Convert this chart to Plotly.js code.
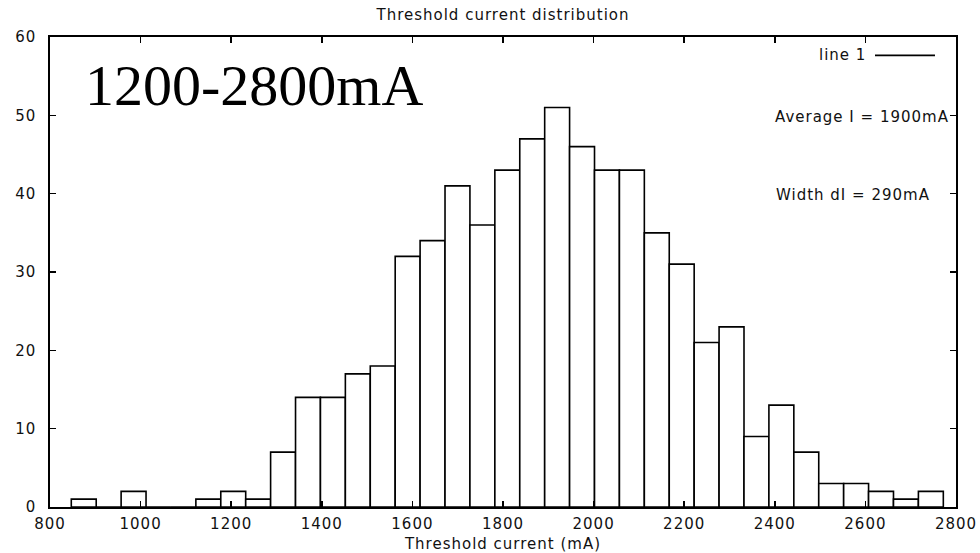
<!DOCTYPE html>
<html>
<head>
<meta charset="utf-8">
<script src="https://cdn.plot.ly/plotly-3.0.1.min.js"></script>
<style>
html,body{margin:0;padding:0;background:#fff;}
#chart{width:980px;height:553px;}
#chart .gtitle, #chart .xtick text, #chart .ytick text, #chart .g-xtitle text,
#chart .annotation[data-index="1"] text, #chart .annotation[data-index="2"] text,
#chart .annotation[data-index="3"] text {letter-spacing:1px;}
</style>
</head>
<body>
<div id="chart"></div>
<script>
// Bin centres (mA), bin width 55 mA
const binCenters = [874.5, 929.5, 984.5, 1039.5, 1094.5, 1149.5, 1204.5, 1259.5, 1314.5, 1369.5,
  1424.5, 1479.5, 1534.5, 1589.5, 1644.5, 1699.5, 1754.5, 1809.5, 1864.5, 1919.5,
  1974.5, 2029.5, 2084.5, 2139.5, 2194.5, 2249.5, 2304.5, 2359.5, 2414.5, 2469.5,
  2524.5, 2579.5, 2634.5, 2689.5, 2744.5];
const counts = [1, 0, 2, 0, 0, 1, 2, 1, 7, 14,
  14, 17, 18, 32, 34, 41, 36, 43, 47, 51,
  46, 43, 43, 35, 31, 21, 23, 9, 13, 7,
  3, 3, 2, 1, 2];
const binWidth = 55;
const xTicks = [800, 1000, 1200, 1400, 1600, 1800, 2000, 2200, 2400, 2600, 2800];
const yTicks = [0, 10, 20, 30, 40, 50, 60];

const sans = "DejaVu Sans, Liberation Sans, sans-serif";
const fs = 15;

const trace = {
  type: 'bar',
  x: binCenters,
  y: counts,
  width: binWidth,
  marker: {color: '#ffffff', line: {color: '#000000', width: 1.6}},
  showlegend: false,
  hoverinfo: 'x+y'
};

const layout = {
  width: 980, height: 553,
  margin: {l: 50, r: 24, t: 37, b: 46},
  paper_bgcolor: '#ffffff', plot_bgcolor: '#ffffff',
  font: {family: sans, size: fs, color: '#111'},
  title: {text: 'Threshold current distribution', font: {family: sans, size: fs, color: '#111'},
          x: 0.5, xref: 'paper', xanchor: 'center', y: 0.973, yref: 'container', yanchor: 'middle'},
  bargap: 0,
  xaxis: {
    range: [800, 2800], tickvals: xTicks, ticktext: xTicks.map(String),
    ticks: 'inside', ticklen: 6, tickwidth: 1.5, tickcolor: '#000',
    showline: true, linecolor: '#000', linewidth: 1.6, mirror: 'ticks',
    showgrid: false, zeroline: false, fixedrange: true, ticklabelstandoff: 2,
    tickfont: {family: sans, size: fs, color: '#111'},
    title: {text: 'Threshold current (mA)', font: {family: sans, size: fs, color: '#111'}, standoff: 13}
  },
  yaxis: {
    range: [0, 60], tickvals: yTicks, ticktext: yTicks.map(String),
    ticks: 'inside', ticklen: 6, tickwidth: 1.5, tickcolor: '#000',
    showline: true, linecolor: '#000', linewidth: 1.6, mirror: 'ticks',
    showgrid: false, zeroline: false, fixedrange: true, ticklabelstandoff: 9,
    tickfont: {family: sans, size: fs, color: '#111'}
  },
  annotations: [
    {text: '1200-2800mA', xref: 'paper', yref: 'paper', x: 0.036, y: 0.897, xanchor: 'left', yanchor: 'middle',
     showarrow: false, font: {family: 'Liberation Serif, Times New Roman, serif', size: 58, color: '#000'}},
    {text: 'line 1', xref: 'paper', yref: 'paper', x: 0.8996, y: 0.961, xanchor: 'right', yanchor: 'middle',
     showarrow: false, font: {family: sans, size: fs, color: '#111'}},
    {text: 'Average I = 1900mA', xref: 'paper', yref: 'paper', x: 0.808, y: 0.829, xanchor: 'left', yanchor: 'middle',
     showarrow: false, font: {family: sans, size: fs, color: '#111'}},
    {text: 'Width dI = 290mA', xref: 'paper', yref: 'paper', x: 0.808, y: 0.663, xanchor: 'left', yanchor: 'middle',
     showarrow: false, font: {family: sans, size: fs, color: '#111'}}
  ],
  shapes: [
    {type: 'line', xref: 'paper', yref: 'paper', x0: 0.9106, x1: 0.9768, y0: 0.961, y1: 0.961,
     line: {color: '#000', width: 1.6}}
  ]
};

Plotly.newPlot('chart', [trace], layout, {staticPlot: true, displayModeBar: false});
</script>
</body>
</html>
